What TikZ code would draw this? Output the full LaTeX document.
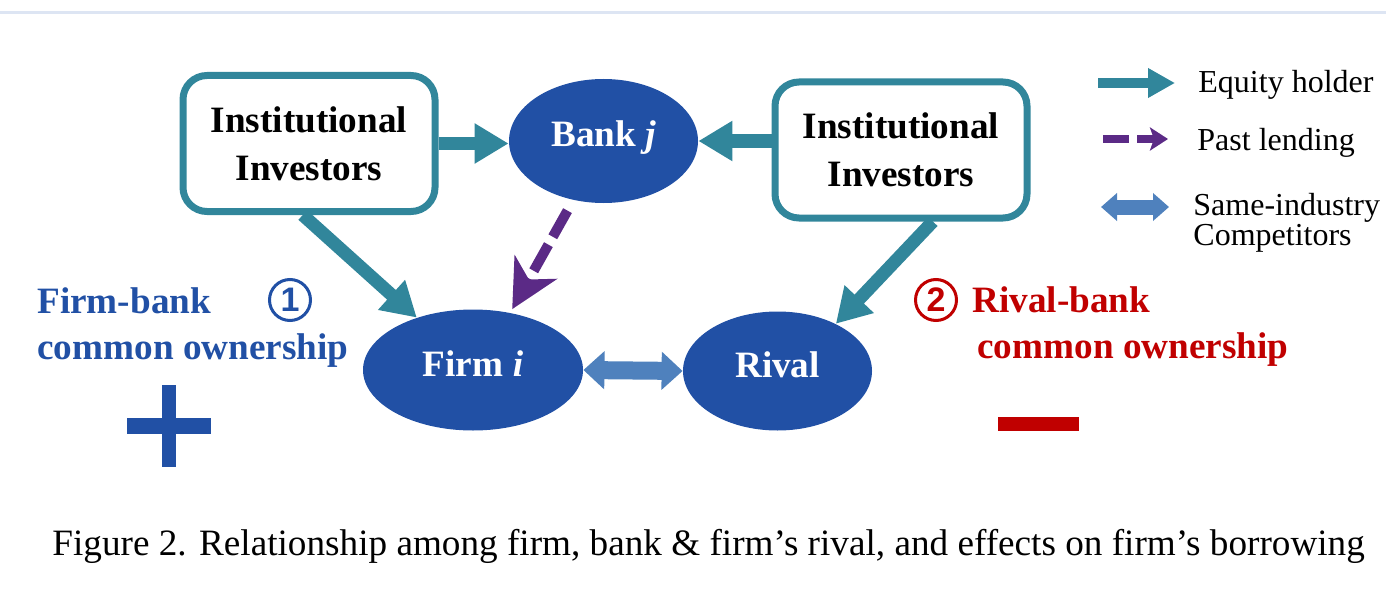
\documentclass[tikz,border=0pt]{standalone}
\usepackage{fontspec}
\setmainfont{Liberation Serif}
\setsansfont{Liberation Sans}
\usetikzlibrary{arrows.meta,shapes.geometric}
\definecolor{eqcol}{HTML}{31869B}
\definecolor{lendcol}{HTML}{5B2A86}
\definecolor{compcol}{HTML}{4F81BD}
\definecolor{partyblue}{HTML}{2150A5}
\definecolor{rivalred}{HTML}{C00000}
\definecolor{rulecol}{HTML}{DDE5F3}
\begin{document}
\begin{tikzpicture}[x=1pt, y=-1pt,
	investor/.style={draw=eqcol, line width=3.5pt, rounded corners=12pt, fill=white, minimum width=126pt, minimum height=68pt, align=center, font=\fontsize{18.6}{24}\selectfont\bfseries},
	party/.style={ellipse, fill=partyblue, inner sep=0pt, text=white, text height=13pt, text depth=7pt, font=\fontsize{18.6}{22}\selectfont\bfseries},
	equity/.style={eqcol, line width=6.5pt, -{Triangle[length=17pt, width=19pt]}},
	lending/.style={lendcol, line width=5pt, dash pattern=on 15pt off 4.5pt, -{Stealth[length=24pt, width=24pt, inset=7pt]}},
	rivalry/.style={compcol, line width=9pt, {Triangle[length=10.5pt, width=18.5pt]}-{Triangle[length=10.5pt, width=18.5pt]}},
	circnum/.style={circle, draw, line width=1.5pt, minimum size=20.5pt, inner sep=0pt, font=\fontsize{17}{17}\selectfont\sffamily\bfseries},
	effect/.style={align=left, inner sep=0pt, anchor=base west, font=\fontsize{18.6}{23}\selectfont\bfseries},
	keytext/.style={align=left, inner sep=0pt, anchor=base west, font=\fontsize{16}{15}\selectfont}]
	\useasboundingbox (0,0) rectangle (693,307.5);
	\draw[rulecol, line width=1.25pt] (0,6.25) -- (693,6.25);
	\node[investor] (instL) at (154.5,71.75) {Institutional\\Investors};
	\node[investor] (instR) at (450.5,75) {Institutional\\Investors};
	\node[party, minimum width=94.5pt, minimum height=62pt] (bank) at (301.75,70.5) {Bank \textit{j}};
	\node[party, minimum width=110pt, minimum height=60.5pt] (firm) at (236.5,185) {Firm \textit{i}};
	\node[party, minimum width=94.5pt, minimum height=59.5pt] (rival) at (388.75,185.5) {Rival};
	\draw[equity] (instL.east) -- (instL.east -| bank.west);
	\draw[equity] (instR.west |- bank.east) -- (bank.east);
	\draw[equity] (instL.265) -- (firm.137);
	\draw[equity] (instR.294) -- (rival.39);
	\draw[lending, shorten <=6pt, shorten >=2pt] (bank.243) -- (firm.57);
	\draw[rivalry] (firm.east) -- (rival.west);
	\coordinate (eq1) at (549,41.5);
	\coordinate (eq2) at (587.5,41.5);
	\draw[eqcol, line width=5pt, -{Triangle[length=13.5pt, width=14pt]}] (eq1) -- (eq2);
	\node[keytext] (eqtext) at (599,46.5) {Equity holder};
	\coordinate (ln1) at (551.5,69.5);
	\coordinate (ln2) at (584,69.5);
	\draw[lendcol, line width=3.75pt, dash pattern=on 13pt off 4pt, -{Stealth[length=9pt, width=11.5pt, inset=2pt]}] (ln1) -- (ln2);
	\node[keytext] (lntext) at (598.5,75) {Past lending};
	\coordinate (cp1) at (550.5,103.5);
	\coordinate (cp2) at (584.5,103.5);
	\draw[compcol, line width=7.5pt, {Triangle[length=8pt, width=13.5pt]}-{Triangle[length=8pt, width=13.5pt]}] (cp1) -- (cp2);
	\node[keytext] (cptext) at (596.5,122.5) {Same-industry\\Competitors};
	\node[circnum, draw=partyblue, text=partyblue] (one) at (145,150) {1};
	\node[circnum, draw=rivalred, text=rivalred] (two) at (468,150) {2};
	\node[effect, text=partyblue] (fbco) at (18.5,179.5) {Firm-bank\\common ownership};
	\node[effect, text=rivalred] (rbco) at (486,179) {Rival-bank\\\hspace*{2.5pt}common ownership};
	\fill[partyblue] (63.5,209) rectangle (105.5,217);
	\fill[partyblue] (81,192.5) rectangle (88,233.5);
	\fill[rivalred] (499,208.5) rectangle (539.5,215.5);
	\node[inner sep=0pt, anchor=base west, font=\fontsize{18.6}{20}\selectfont] (caption) at (26,277.5) {Figure 2. Relationship among firm, bank \& firm’s rival, and effects on firm’s borrowing};
\end{tikzpicture}
\end{document}
